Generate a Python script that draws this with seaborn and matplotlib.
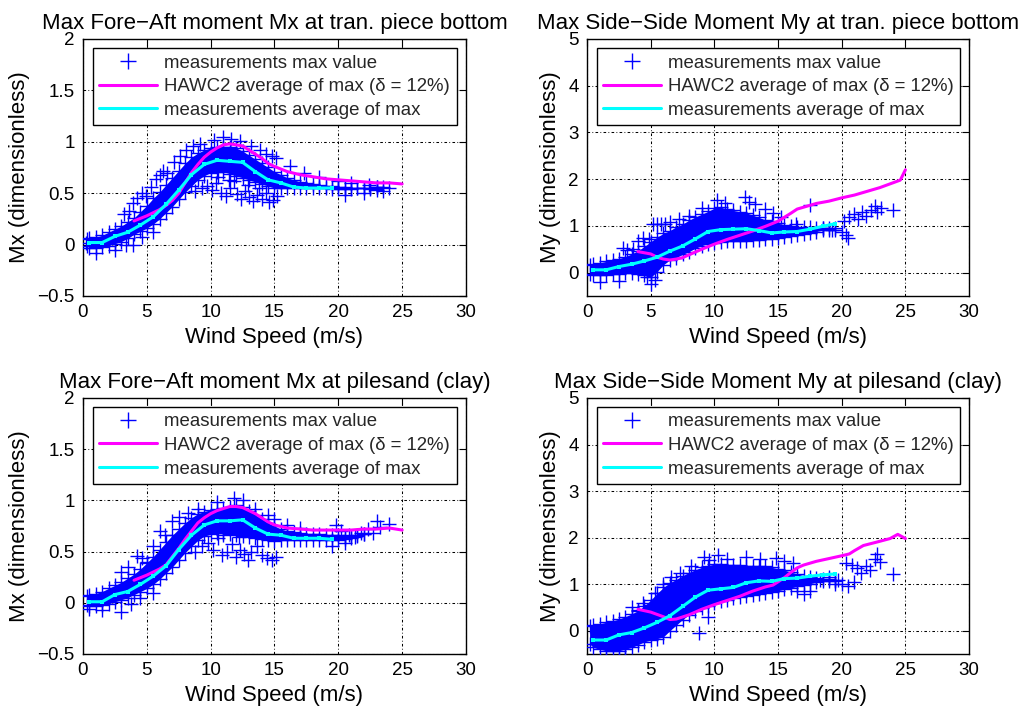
import matplotlib
matplotlib.use("Agg")
import matplotlib.pyplot as plt
import seaborn as sns
from matplotlib.lines import Line2D

# ---------------------------------------------------------------- data
# Panel A: fore-aft moment Mx at transition piece bottom
a_env_ws = [0.3, 0.5, 1, 1.5, 2, 2.5, 3, 3.5, 4, 4.5, 5, 5.5, 6, 6.5, 7, 7.5, 8, 8.5, 9, 9.5,
            10, 10.5, 11, 11.5, 12, 12.5, 13, 13.5, 14, 14.5, 15, 15.5, 16, 16.5, 17, 17.5,
            18, 18.5, 19, 19.5, 20, 20.5, 21, 21.5, 22, 22.5, 23, 23.5]
a_env_hi = [0.05, 0.06, 0.07, 0.09, 0.12, 0.15, 0.18, 0.22, 0.26, 0.32, 0.38, 0.45, 0.51, 0.58,
            0.65, 0.72, 0.79, 0.85, 0.89, 0.92, 0.94, 0.95, 0.95, 0.95, 0.94, 0.91, 0.87, 0.83,
            0.79, 0.75, 0.71, 0.68, 0.65, 0.63, 0.61, 0.60, 0.59, 0.58, 0.57, 0.57, 0.56, 0.56,
            0.55, 0.55, 0.55, 0.54, 0.53, 0.52]
a_env_lo = [-0.01, -0.03, -0.03, -0.02, -0.01, 0.01, 0.03, 0.06, 0.10, 0.13, 0.16, 0.20, 0.25,
            0.31, 0.37, 0.44, 0.51, 0.57, 0.63, 0.67, 0.70, 0.71, 0.71, 0.69, 0.67, 0.65, 0.63,
            0.61, 0.59, 0.57, 0.55, 0.55, 0.55, 0.55, 0.55, 0.55, 0.55, 0.55, 0.55, 0.54, 0.54,
            0.54, 0.54, 0.55, 0.55, 0.55, 0.56, 0.56]
a_pts_ws = [3.2, 3.6, 3.9, 4.2, 4.6, 4.9, 5.3, 5.7, 6.0, 6.3, 6.6, 7.1, 7.6, 8.1, 8.6, 9.2,
            10.3, 11.0, 11.6, 12.3, 13.2, 13.9, 14.3, 14.8, 15.1, 16.2, 17.3, 18.5, 20.0, 21.0,
            22.4, 23.0, 24.0, 22.0, 20.5, 0.2, 1.0, 2.5, 3.4, 3.9, 4.6, 5.5,
            8.8, 9.3, 9.7, 10.1, 10.4, 10.8, 11.2, 11.5, 11.8, 12.1, 12.4, 12.7, 13.0, 13.3,
            13.6, 14.0, 14.3, 14.6, 14.9, 15.2, 10.6, 11.4, 12.9, 13.8]
a_pts_val = [0.30, 0.33, 0.40, 0.45, 0.50, 0.47, 0.56, 0.64, 0.68, 0.72, 0.70, 0.80, 0.86, 0.92,
             0.96, 0.98, 1.02, 1.05, 1.03, 1.01, 0.96, 0.92, 0.88, 0.86, 0.84, 0.76, 0.70, 0.66,
             0.62, 0.60, 0.58, 0.56, 0.55, 0.50, 0.48, 0.02, -0.08, -0.05, 0.00, 0.00, 0.07, 0.12,
             0.52, 0.55, 0.57, 0.53, 0.60, 0.50, 0.47, 0.55, 0.62, 0.49, 0.44, 0.52, 0.46, 0.42,
             0.48, 0.44, 0.50, 0.41, 0.43, 0.47, 0.66, 0.63, 0.58, 0.55]
a_hawc_ws = [4, 5, 6, 6.5, 7, 7.5, 8, 8.5, 9, 9.5, 10, 10.5, 11, 11.5, 12, 12.5, 13, 13.5, 14,
             14.5, 15, 16, 17, 18, 19, 20, 21, 22, 23, 24, 25]
a_hawc = [0.23, 0.28, 0.34, 0.38, 0.43, 0.50, 0.60, 0.70, 0.78, 0.85, 0.90, 0.94, 0.97, 0.98,
          0.97, 0.96, 0.92, 0.88, 0.84, 0.79, 0.76, 0.71, 0.68, 0.66, 0.64, 0.63, 0.62, 0.61,
          0.60, 0.60, 0.59]
a_avg_ws = [0.5, 1.5, 2.5, 3.5, 4.5, 5.5, 6.5, 7.5, 8.5, 9.5, 10.5, 11.5, 12.5, 13.5, 14.5,
            15.5, 16.5, 17.5, 18.5, 19.5]
a_avg = [0.02, 0.02, 0.08, 0.12, 0.19, 0.27, 0.39, 0.53, 0.68, 0.78, 0.82, 0.81, 0.80, 0.71,
         0.63, 0.60, 0.56, 0.55, 0.55, 0.55]

# Panel B: side-side moment My at transition piece bottom
b_env_ws = [0.2, 0.5, 1, 1.5, 2, 2.5, 3, 3.5, 4, 4.5, 5, 5.5, 6, 6.5, 7, 7.5, 8, 8.5, 9, 9.5,
            10, 10.5, 11, 11.5, 12, 12.5, 13, 13.5, 14, 14.5, 15, 15.5, 16, 16.5, 17, 17.5,
            18, 18.5, 19, 19.5]
b_env_hi = [0.16, 0.19, 0.21, 0.24, 0.26, 0.30, 0.34, 0.40, 0.47, 0.56, 0.66, 0.76, 0.84, 0.90,
            0.98, 1.04, 1.12, 1.19, 1.25, 1.31, 1.38, 1.40, 1.36, 1.33, 1.30, 1.28, 1.23, 1.18,
            1.13, 1.10, 1.06, 1.02, 1.00, 0.98, 0.98, 0.98, 0.96, 0.96, 0.96, 0.96]
b_env_lo = [-0.03, -0.06, -0.06, -0.04, -0.03, -0.02, -0.01, 0.00, -0.02, -0.06, -0.10, 0.02,
            0.17, 0.27, 0.32, 0.39, 0.45, 0.52, 0.58, 0.62, 0.64, 0.66, 0.67, 0.68, 0.68, 0.68,
            0.69, 0.70, 0.72, 0.73, 0.74, 0.76, 0.78, 0.80, 0.82, 0.85, 0.88, 0.91, 0.92, 0.92]
b_pts_ws = [2.8, 3.1, 3.6, 4.0, 4.4, 4.9, 5.2, 5.5, 5.8, 6.1, 6.5, 7.2, 8.0, 9.0, 10.2, 10.8,
            12.4, 12.7, 13.2, 14.0, 14.6, 15.2, 16.4, 17.5, 18.5, 19.2, 20.0, 20.3, 20.5, 20.2,
            20.6, 21.0, 21.3, 21.6, 21.9, 22.3, 22.6, 22.8, 23.1, 24.0, 5.0, 5.3, 4.7, 1.0, 2.5]
b_pts_val = [0.52, 0.48, 0.50, 0.68, 0.75, 0.72, 1.04, 1.04, 1.05, 1.04, 1.08, 1.14, 1.22, 1.38,
             1.55, 1.50, 1.62, 1.52, 1.46, 1.36, 1.28, 1.20, 1.05, 1.45, 0.95, 0.92, 0.88, 0.80,
             0.74, 1.10, 1.20, 1.26, 1.15, 1.30, 1.22, 1.35, 1.42, 1.30, 1.38, 1.33, -0.25, -0.15,
             -0.10, -0.20, -0.18]
b_hawc_ws = [4, 5, 5.5, 6, 6.5, 7, 7.5, 8, 9, 10, 11, 12, 13, 14, 15, 16, 16.5, 17, 18, 19, 20,
             21, 22, 23, 24, 24.6, 25]
b_hawc = [0.45, 0.40, 0.33, 0.29, 0.27, 0.29, 0.32, 0.38, 0.50, 0.61, 0.71, 0.80, 0.89, 0.99,
          1.10, 1.27, 1.36, 1.40, 1.48, 1.53, 1.60, 1.66, 1.74, 1.82, 1.92, 1.98, 2.20]
b_avg_ws = a_avg_ws
b_avg = [0.06, 0.06, 0.13, 0.18, 0.25, 0.33, 0.46, 0.57, 0.72, 0.88, 0.92, 0.93, 0.94, 0.90,
         0.85, 0.87, 0.88, 0.93, 0.99, 1.05]

# Panel C: fore-aft moment Mx at pile (sand/clay)
c_env_ws = [0.3, 0.5, 1, 1.5, 2, 2.5, 3, 3.5, 4, 4.5, 5, 5.5, 6, 6.5, 7, 7.5, 8, 8.5, 9, 9.5,
            10, 10.5, 11, 11.5, 12, 12.5, 13, 13.5, 14, 14.5, 15, 15.5, 16, 16.5, 17, 17.5,
            18, 18.5, 19, 19.5, 20, 20.5, 21, 21.5, 22]
c_env_hi = [0.07, 0.08, 0.09, 0.11, 0.14, 0.17, 0.20, 0.24, 0.28, 0.33, 0.39, 0.45, 0.52, 0.59,
            0.66, 0.72, 0.78, 0.83, 0.87, 0.89, 0.91, 0.92, 0.93, 0.94, 0.95, 0.94, 0.90, 0.86,
            0.82, 0.78, 0.75, 0.72, 0.70, 0.69, 0.68, 0.67, 0.67, 0.67, 0.66, 0.66, 0.66, 0.65,
            0.65, 0.66, 0.67]
c_env_lo = [-0.02, -0.03, -0.03, -0.02, -0.01, 0.01, 0.03, 0.05, 0.08, 0.11, 0.14, 0.18, 0.23,
            0.29, 0.35, 0.42, 0.49, 0.55, 0.61, 0.65, 0.67, 0.68, 0.68, 0.67, 0.66, 0.65, 0.64,
            0.63, 0.62, 0.61, 0.60, 0.61, 0.61, 0.61, 0.61, 0.61, 0.61, 0.61, 0.61, 0.61, 0.61,
            0.62, 0.63, 0.65, 0.67]
c_pts_ws = [3.0, 3.5, 4.2, 4.6, 5.0, 5.5, 6.0, 6.4, 7.0, 7.5, 8.2, 9.0, 10.5, 11.8, 12.5, 13.5,
            14.5, 15.0, 16.0, 17.0, 19.8, 20.2, 20.8, 21.3, 21.8, 22.3, 22.7, 23.0, 23.3, 24.0,
            19.5, 20.5, 0.5, 1.5, 3.0, 3.8, 4.5, 5.5,
            8.8, 9.3, 9.8, 10.2, 10.6, 10.9, 11.3, 11.7, 12.0, 12.3, 12.6, 12.9, 13.2, 13.6,
            14.0, 14.4, 14.8, 15.1, 11.0, 12.2]
c_pts_val = [0.30, 0.35, 0.46, 0.44, 0.40, 0.55, 0.70, 0.66, 0.80, 0.84, 0.88, 0.92, 0.98, 1.02,
             1.00, 0.92, 0.86, 0.82, 0.76, 0.73, 0.76, 0.70, 0.66, 0.64, 0.68, 0.72, 0.68, 0.80,
             0.74, 0.77, 0.55, 0.58, -0.06, -0.07, -0.09, -0.01, 0.05, 0.10,
             0.50, 0.55, 0.58, 0.52, 0.63, 0.47, 0.50, 0.57, 0.45, 0.52, 0.48, 0.42, 0.50, 0.55,
             0.47, 0.44, 0.42, 0.45, 0.66, 0.64]
c_hawc_ws = a_hawc_ws
c_hawc = [0.22, 0.27, 0.33, 0.37, 0.45, 0.53, 0.62, 0.70, 0.78, 0.83, 0.87, 0.90, 0.92, 0.94,
          0.94, 0.93, 0.90, 0.87, 0.83, 0.79, 0.76, 0.73, 0.72, 0.71, 0.71, 0.71, 0.71, 0.72,
          0.72, 0.73, 0.71]
c_avg_ws = a_avg_ws
c_avg = [0.01, 0.01, 0.08, 0.11, 0.18, 0.26, 0.36, 0.52, 0.66, 0.76, 0.80, 0.80, 0.81, 0.73,
         0.67, 0.66, 0.63, 0.63, 0.63, 0.62]

# Panel D: side-side moment My at pile (sand/clay)
d_env_ws = b_env_ws
d_env_hi = [0.10, 0.13, 0.15, 0.18, 0.21, 0.25, 0.30, 0.36, 0.43, 0.53, 0.66, 0.80, 0.93, 1.03,
            1.10, 1.18, 1.25, 1.31, 1.36, 1.40, 1.43, 1.43, 1.42, 1.41, 1.41, 1.40, 1.40, 1.39,
            1.38, 1.36, 1.33, 1.30, 1.26, 1.22, 1.18, 1.15, 1.13, 1.12, 1.11, 1.10]
d_env_lo = [-0.28, -0.36, -0.40, -0.43, -0.44, -0.43, -0.40, -0.36, -0.30, -0.24, -0.20, -0.17,
            -0.13, 0.00, 0.12, 0.24, 0.34, 0.42, 0.48, 0.54, 0.59, 0.64, 0.67, 0.70, 0.72, 0.74,
            0.76, 0.78, 0.80, 0.83, 0.86, 0.89, 0.92, 0.95, 0.98, 1.01, 1.04, 1.06, 1.07, 1.07]
d_pts_ws = [3.5, 4.0, 4.4, 5.0, 5.3, 6.0, 6.6, 7.3, 8.2, 9.2, 9.6, 10.3, 11.0, 12.5, 13.6, 14.8,
            15.5, 16.2, 17.0, 16.5, 17.5, 18.3, 19.0, 19.5, 19.7, 20.0, 20.3, 20.8, 21.2, 21.5,
            21.9, 22.2, 22.6, 22.8, 23.0, 21.0, 20.5, 24.0, 8.8, 1.5, 2.5, 3.0, 9.5]
d_pts_val = [0.50, 0.45, 0.60, 0.55, 0.80, 1.00, 1.15, 1.25, 1.40, 1.58, 1.52, 1.62, 1.55, 1.58,
             1.55, 1.56, 1.50, 1.45, 0.78, 0.85, 0.85, 1.10, 1.15, 1.00, 1.08, 1.00, 1.45, 1.42,
             1.35, 1.25, 1.40, 1.30, 1.55, 1.65, 1.48, 1.05, 0.95, 1.22, -0.05, -0.60, -0.62,
             -0.55, 0.30]
d_hawc_ws = [4, 5, 5.5, 6, 6.5, 7, 8, 9, 10, 11, 12, 13, 14, 14.6, 15, 15.5, 16, 16.5, 17, 18,
             19, 20, 20.6, 21, 21.7, 22.7, 23.8, 24.4, 25]
d_hawc = [0.46, 0.40, 0.35, 0.30, 0.24, 0.25, 0.34, 0.46, 0.56, 0.65, 0.74, 0.85, 0.94, 0.98,
          1.05, 1.14, 1.25, 1.35, 1.41, 1.49, 1.55, 1.61, 1.65, 1.72, 1.83, 1.90, 1.98, 2.07, 1.98]
d_avg_ws = a_avg_ws
d_avg = [-0.20, -0.20, -0.09, -0.04, 0.06, 0.18, 0.32, 0.52, 0.72, 0.87, 0.90, 0.93, 1.03, 1.07,
         1.06, 1.12, 1.13, 1.17, 1.20, 1.22]

titles = ["Max Fore\u2212Aft moment Mx at tran. piece bottom",
          "Max Side\u2212Side Moment My at tran. piece bottom",
          "Max Fore\u2212Aft moment Mx at pilesand (clay)",
          "Max Side\u2212Side Moment My at pilesand (clay)"]
ylabels = ["Mx (dimensionless)", "My (dimensionless)",
           "Mx (dimensionless)", "My (dimensionless)"]
xlabel = "Wind Speed (m/s)"
legend_labels = ["measurements max value",
                 "HAWC2 average of max (\u03b4 = 12%)",
                 "measurements average of max"]
xticks = [0, 5, 10, 15, 20, 25, 30]
mx_ticks = [-0.5, 0, 0.5, 1, 1.5, 2]
mx_ticklabels = ["\u22120.5", "0", "0.5", "1", "1.5", "2"]
my_ticks = [0, 1, 2, 3, 4, 5]
my_ticklabels = ["0", "1", "2", "3", "4", "5"]

# ---------------------------------------------------------------- style
sns.set_theme(style="white")
plt.rcParams["font.family"] = ["Liberation Sans", "DejaVu Sans"]
plt.rcParams["axes.linewidth"] = 1.0
plt.rcParams["axes.edgecolor"] = "black"

BLUE = (0, 0, 1)
MAGENTA = (1, 0, 1)
CYAN = (0, 1, 1)

fig = plt.figure(figsize=(10.27, 7.10), dpi=100)
fig.patch.set_facecolor("white")

positions = [[0.0808, 0.5831, 0.3729, 0.3620],
             [0.5716, 0.5831, 0.3720, 0.3620],
             [0.0808, 0.0789, 0.3729, 0.3606],
             [0.5716, 0.0789, 0.3720, 0.3606]]

panels = [
    (a_env_ws, a_env_lo, a_env_hi, a_pts_ws, a_pts_val, a_hawc_ws, a_hawc, a_avg_ws, a_avg),
    (b_env_ws, b_env_lo, b_env_hi, b_pts_ws, b_pts_val, b_hawc_ws, b_hawc, b_avg_ws, b_avg),
    (c_env_ws, c_env_lo, c_env_hi, c_pts_ws, c_pts_val, c_hawc_ws, c_hawc, c_avg_ws, c_avg),
    (d_env_ws, d_env_lo, d_env_hi, d_pts_ws, d_pts_val, d_hawc_ws, d_hawc, d_avg_ws, d_avg),
]

for i, (pos, pdata) in enumerate(zip(positions, panels)):
    env_ws, env_lo, env_hi, pts_ws, pts_val, hawc_ws, hawc, avg_ws, avg = pdata
    ax = fig.add_axes(pos)
    ax.set_facecolor("white")
    is_mx = i in (0, 2)

    # dense core of the measured maxima
    ax.fill_between(env_ws, env_lo, env_hi, color=BLUE, lw=0, zorder=2)
    # individual measured maxima (cloud edges and scattered values)
    sc_x = list(env_ws) + list(env_ws) + list(pts_ws)
    sc_y = list(env_lo) + list(env_hi) + list(pts_val)
    sns.scatterplot(x=sc_x, y=sc_y, ax=ax, marker="+", s=90, color=BLUE,
                    linewidth=1.0, zorder=3, legend=False)
    # simulated average of maxima
    sns.lineplot(x=hawc_ws, y=hawc, ax=ax, color=MAGENTA, lw=2.2, zorder=4,
                 sort=False, estimator=None, legend=False)
    # measured average of maxima
    sns.lineplot(x=avg_ws, y=avg, ax=ax, color=CYAN, lw=2.2, zorder=5,
                 marker="s", markersize=3.5, markeredgewidth=0, sort=False,
                 estimator=None, legend=False)

    ax.set_xlim(0, 30)
    ax.set_xticks(xticks)
    ax.set_xticklabels([str(t) for t in xticks])
    if is_mx:
        ax.set_ylim(-0.5, 2)
        ax.set_yticks(mx_ticks)
        ax.set_yticklabels(mx_ticklabels)
    else:
        ax.set_ylim(-0.5, 5)
        ax.set_yticks(my_ticks)
        ax.set_yticklabels(my_ticklabels)

    ax.grid(True, color="black", linestyle=(0, (2.5, 2.2, 0.8, 2.2)), linewidth=0.75)
    ax.set_axisbelow(True)
    ax.tick_params(direction="in", length=5, width=0.8, top=True, right=True,
                   labelsize=13.5, pad=6, colors="black", labelcolor="black")
    for sp in ax.spines.values():
        sp.set_visible(True)
        sp.set_color("black")
        sp.set_linewidth(1.0)

    ax.set_title(titles[i], fontsize=16, pad=7, color="black")
    ax.set_xlabel(xlabel, fontsize=16, labelpad=4, color="black")
    ax.set_ylabel(ylabels[i], fontsize=16, labelpad=5, color="black")

    handles = [Line2D([], [], ls="none", marker="+", color=BLUE, ms=11, mew=1.0),
               Line2D([], [], color=MAGENTA, lw=2.2),
               Line2D([], [], color=CYAN, lw=2.2)]
    leg = ax.legend(handles, legend_labels, loc="upper left",
                    bbox_to_anchor=(0.026, 0.965, 0.951, 0.0), mode="expand",
                    fontsize=13.4, frameon=True, fancybox=False, shadow=False,
                    framealpha=1, edgecolor="black", facecolor="white",
                    borderpad=0.35, handlelength=3.1, handletextpad=0.35,
                    labelspacing=0.35, borderaxespad=0)
    leg.get_frame().set_linewidth(1.0)
    leg.set_zorder(10)

fig.savefig("out.png", dpi=100, facecolor="white")
